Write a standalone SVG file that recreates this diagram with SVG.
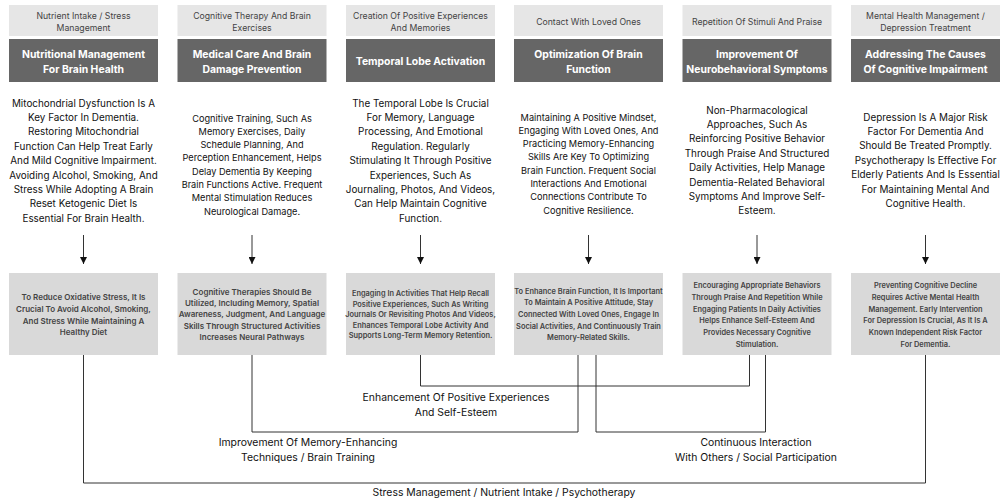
<svg xmlns="http://www.w3.org/2000/svg" width="1007" height="500" viewBox="0 0 1007 500">
<style>
text{font-family:Inter,"Liberation Sans",sans-serif;text-anchor:middle}
.tag{fill:#e6e6e6}
.tagt{font-size:8.7px;fill:#444}
.hd{fill:#666666}
.hdt{font-size:10.4px;font-weight:700;fill:#ffffff}
.body{font-size:9.9px;fill:#111}
.sm{font-size:9.2px}
.bx{fill:#d9d9d9}
.bxt{font-size:7.4px;font-weight:600;fill:#444}
.b8{font-size:8px}
.ln{fill:none;stroke:#333;stroke-width:1}
.lbl{font-size:10.4px;fill:#111}
</style>
<defs>
<marker id="ah" viewBox="0 0 10 10" refX="10" refY="5" markerWidth="8" markerHeight="7" markerUnits="userSpaceOnUse" orient="auto">
<path d="M0,0 L10,5 L0,10 z" fill="#111"/>
</marker>
</defs>
<rect width="1007" height="500" fill="#ffffff"/>

<g id="col1">
<rect class="tag" x="9" y="5" width="149" height="31"/>
<text class="tagt" x="83.5" y="19">Nutrient Intake / Stress<tspan x="83.5" dy="12">Management</tspan></text>
<rect class="hd" x="9" y="39" width="149" height="43"/>
<text class="hdt" x="83.5" y="57.5">Nutritional Management<tspan x="83.5" dy="15">For Brain Health</tspan></text>
<text class="body" x="83.5" y="106.5">Mitochondrial Dysfunction Is A<tspan x="83.5" dy="14.4">Key Factor In Dementia.</tspan><tspan x="83.5" dy="14.4">Restoring Mitochondrial</tspan><tspan x="83.5" dy="14.4">Function Can Help Treat Early</tspan><tspan x="83.5" dy="14.4">And Mild Cognitive Impairment.</tspan><tspan x="83.5" dy="14.4">Avoiding Alcohol, Smoking, And</tspan><tspan x="83.5" dy="14.4">Stress While Adopting A Brain</tspan><tspan x="83.5" dy="14.4">Reset Ketogenic Diet Is</tspan><tspan x="83.5" dy="14.4">Essential For Brain Health.</tspan></text>
<rect class="bx" x="9" y="273" width="149" height="82"/>
<text class="bxt b8" x="83.5" y="300">To Reduce Oxidative Stress, It Is<tspan x="83.5" dy="11.8">Crucial To Avoid Alcohol, Smoking,</tspan><tspan x="83.5" dy="11.8">And Stress While Maintaining A</tspan><tspan x="83.5" dy="11.8">Healthy Diet</tspan></text>
</g>

<g id="col2">
<rect class="tag" x="177.5" y="5" width="149" height="31"/>
<text class="tagt" x="252" y="19">Cognitive Therapy And Brain<tspan x="252" dy="12">Exercises</tspan></text>
<rect class="hd" x="177.5" y="39" width="149" height="43"/>
<text class="hdt" x="252" y="57.5">Medical Care And Brain<tspan x="252" dy="15">Damage Prevention</tspan></text>
<text class="body sm" x="252" y="121.5">Cognitive Training, Such As<tspan x="252" dy="13.3">Memory Exercises, Daily</tspan><tspan x="252" dy="13.3">Schedule Planning, And</tspan><tspan x="252" dy="13.3">Perception Enhancement, Helps</tspan><tspan x="252" dy="13.3">Delay Dementia By Keeping</tspan><tspan x="252" dy="13.3">Brain Functions Active. Frequent</tspan><tspan x="252" dy="13.3">Mental Stimulation Reduces</tspan><tspan x="252" dy="13.3">Neurological Damage.</tspan></text>
<rect class="bx" x="177.5" y="273" width="149" height="82"/>
<text class="bxt b8" x="252" y="295">Cognitive Therapies Should Be<tspan x="252" dy="11.2">Utilized, Including Memory, Spatial</tspan><tspan x="252" dy="11.2">Awareness, Judgment, And Language</tspan><tspan x="252" dy="11.2">Skills Through Structured Activities</tspan><tspan x="252" dy="11.2">Increases Neural Pathways</tspan></text>
</g>

<g id="col3">
<rect class="tag" x="346" y="5" width="149" height="31"/>
<text class="tagt" x="420.5" y="19">Creation Of Positive Experiences<tspan x="420.5" dy="12">And Memories</tspan></text>
<rect class="hd" x="346" y="39" width="149" height="43"/>
<text class="hdt" x="420.5" y="64.5">Temporal Lobe Activation</text>
<text class="body" x="420.5" y="106.5">The Temporal Lobe Is Crucial<tspan x="420.5" dy="14.4">For Memory, Language</tspan><tspan x="420.5" dy="14.4">Processing, And Emotional</tspan><tspan x="420.5" dy="14.4">Regulation. Regularly</tspan><tspan x="420.5" dy="14.4">Stimulating It Through Positive</tspan><tspan x="420.5" dy="14.4">Experiences, Such As</tspan><tspan x="420.5" dy="14.4">Journaling, Photos, And Videos,</tspan><tspan x="420.5" dy="14.4">Can Help Maintain Cognitive</tspan><tspan x="420.5" dy="14.4">Function.</tspan></text>
<rect class="bx" x="346" y="273" width="149" height="82"/>
<text class="bxt" x="420.5" y="296">Engaging In Activities That Help Recall<tspan x="420.5" dy="10.6">Positive Experiences, Such As Writing</tspan><tspan x="420.5" dy="10.6">Journals Or Revisiting Photos And Videos,</tspan><tspan x="420.5" dy="10.6">Enhances Temporal Lobe Activity And</tspan><tspan x="420.5" dy="10.6">Supports Long-Term Memory Retention.</tspan></text>
</g>

<g id="col4">
<rect class="tag" x="514" y="5" width="149" height="31"/>
<text class="tagt" x="588.5" y="24.5">Contact With Loved Ones</text>
<rect class="hd" x="514" y="39" width="149" height="43"/>
<text class="hdt" x="588.5" y="57.5">Optimization Of Brain<tspan x="588.5" dy="15">Function</tspan></text>
<text class="body sm" x="588.5" y="120.5">Maintaining A Positive Mindset,<tspan x="588.5" dy="13.3">Engaging With Loved Ones, And</tspan><tspan x="588.5" dy="13.3">Practicing Memory-Enhancing</tspan><tspan x="588.5" dy="13.3">Skills Are Key To Optimizing</tspan><tspan x="588.5" dy="13.3">Brain Function. Frequent Social</tspan><tspan x="588.5" dy="13.3">Interactions And Emotional</tspan><tspan x="588.5" dy="13.3">Connections Contribute To</tspan><tspan x="588.5" dy="13.3">Cognitive Resilience.</tspan></text>
<rect class="bx" x="514" y="273" width="149" height="82"/>
<text class="bxt" x="588.5" y="293.5">To Enhance Brain Function, It Is Important<tspan x="588.5" dy="11.7">To Maintain A Positive Attitude, Stay</tspan><tspan x="588.5" dy="11.7">Connected With Loved Ones, Engage In</tspan><tspan x="588.5" dy="11.7">Social Activities, And Continuously Train</tspan><tspan x="588.5" dy="11.7">Memory-Related Skills.</tspan></text>
</g>

<g id="col5">
<rect class="tag" x="682.5" y="5" width="149" height="31"/>
<text class="tagt" x="757" y="24.5">Repetition Of Stimuli And Praise</text>
<rect class="hd" x="682.5" y="39" width="149" height="43"/>
<text class="hdt" x="757" y="57.5">Improvement Of<tspan x="757" dy="15">Neurobehavioral Symptoms</tspan></text>
<text class="body" x="757" y="113.5">Non-Pharmacological<tspan x="757" dy="14.4">Approaches, Such As</tspan><tspan x="757" dy="14.4">Reinforcing Positive Behavior</tspan><tspan x="757" dy="14.4">Through Praise And Structured</tspan><tspan x="757" dy="14.4">Daily Activities, Help Manage</tspan><tspan x="757" dy="14.4">Dementia-Related Behavioral</tspan><tspan x="757" dy="14.4">Symptoms And Improve Self-</tspan><tspan x="757" dy="14.4">Esteem.</tspan></text>
<rect class="bx" x="682.5" y="273" width="149" height="82"/>
<text class="bxt" x="757" y="288">Encouraging Appropriate Behaviors<tspan x="757" dy="11.8">Through Praise And Repetition While</tspan><tspan x="757" dy="11.8">Engaging Patients In Daily Activities</tspan><tspan x="757" dy="11.8">Helps Enhance Self-Esteem And</tspan><tspan x="757" dy="11.8">Provides Necessary Cognitive</tspan><tspan x="757" dy="11.8">Stimulation.</tspan></text>
</g>

<g id="col6">
<rect class="tag" x="851" y="5" width="149" height="31"/>
<text class="tagt" x="925.5" y="19">Mental Health Management /<tspan x="925.5" dy="12">Depression Treatment</tspan></text>
<rect class="hd" x="851" y="39" width="149" height="43"/>
<text class="hdt" x="925.5" y="57.5">Addressing The Causes<tspan x="925.5" dy="15">Of Cognitive Impairment</tspan></text>
<text class="body" x="925.5" y="120.5">Depression Is A Major Risk<tspan x="925.5" dy="14.4">Factor For Dementia And</tspan><tspan x="925.5" dy="14.4">Should Be Treated Promptly.</tspan><tspan x="925.5" dy="14.4">Psychotherapy Is Effective For</tspan><tspan x="925.5" dy="14.4">Elderly Patients And Is Essential</tspan><tspan x="925.5" dy="14.4">For Maintaining Mental And</tspan><tspan x="925.5" dy="14.4">Cognitive Health.</tspan></text>
<rect class="bx" x="851" y="273" width="149" height="82"/>
<text class="bxt" x="925.5" y="288">Preventing Cognitive Decline<tspan x="925.5" dy="11.8">Requires Active Mental Health</tspan><tspan x="925.5" dy="11.8">Management. Early Intervention</tspan><tspan x="925.5" dy="11.8">For Depression Is Crucial, As It Is A</tspan><tspan x="925.5" dy="11.8">Known Independent Risk Factor</tspan><tspan x="925.5" dy="11.8">For Dementia.</tspan></text>
</g>

<g id="connectors">
<line class="ln" x1="83.5" y1="235" x2="83.5" y2="264" marker-end="url(#ah)"/>
<line class="ln" x1="252" y1="235" x2="252" y2="264" marker-end="url(#ah)"/>
<line class="ln" x1="420.5" y1="235" x2="420.5" y2="264" marker-end="url(#ah)"/>
<line class="ln" x1="588.5" y1="235" x2="588.5" y2="264" marker-end="url(#ah)"/>
<line class="ln" x1="757" y1="235" x2="757" y2="264" marker-end="url(#ah)"/>
<line class="ln" x1="925.5" y1="235" x2="925.5" y2="264" marker-end="url(#ah)"/>
<polyline class="ln" points="83.5,355 83.5,483 925.5,483 925.5,355"/>
<polyline class="ln" points="252,355 252,432 578,432 578,355"/>
<polyline class="ln" points="420.5,355 420.5,386 749.5,386 749.5,355"/>
<polyline class="ln" points="596,355 596,432 765.5,432 765.5,355"/>
</g>

<g id="labels">
<text class="lbl" x="456" y="401">Enhancement Of Positive Experiences<tspan x="456" dy="15">And Self-Esteem</tspan></text>
<text class="lbl" x="308" y="446">Improvement Of Memory-Enhancing<tspan x="308" dy="15">Techniques / Brain Training</tspan></text>
<text class="lbl" x="756" y="446">Continuous Interaction<tspan x="756" dy="15">With Others / Social Participation</tspan></text>
<text class="lbl" x="504" y="496">Stress Management / Nutrient Intake / Psychotherapy</text>
</g>
</svg>
